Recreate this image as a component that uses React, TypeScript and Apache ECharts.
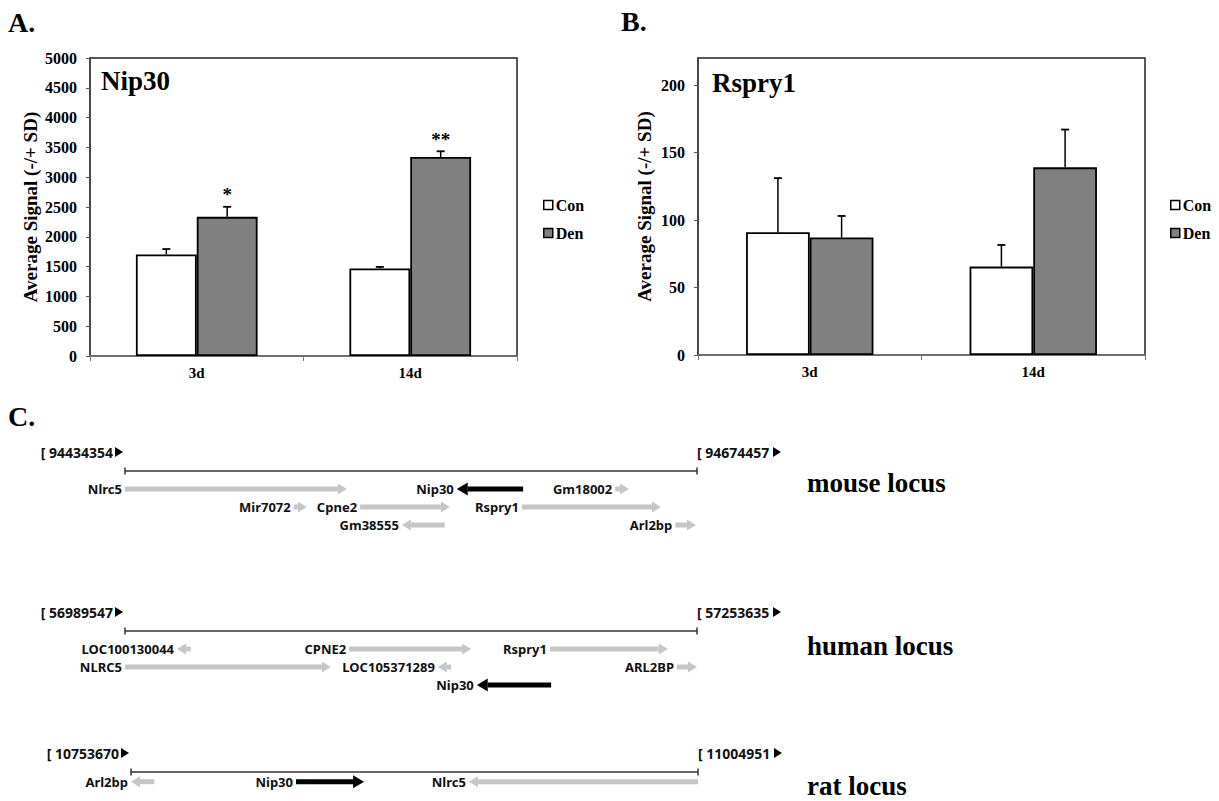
import React, { useEffect, useRef } from "react";
import * as echarts from "echarts";

// ---------- Data ----------
const days = ["3d", "14d"];
const groupNames = ["Con", "Den"];

// Panel A: Nip30 average signal
const nipCon = [1705, 1470];
const nipConSD = [90, 25];
const nipDen = [2335, 3340];
const nipDenSD = [168, 95];
const nipStars = ["*", "**"];

// Panel B: Rspry1 average signal
const rspCon = [91, 65.5];
const rspConSD = [40, 16];
const rspDen = [87, 139];
const rspDenSD = [16, 28];

// Panel C: loci (gene: name, start %, end %, strand, row)
type Gene = [string, number, number, number, number];
const locusExtent = [0, 100];
const mouseBounds = ["94434354", "94674457"];
const humanBounds = ["56989547", "57253635"];
const ratBounds = ["10753670", "11004951"];
const mouseGenes: Gene[] = [
  ["Nlrc5", 0, 38.8, 1, 1],
  ["Nip30", 58.0, 69.6, -1, 1],
  ["Gm18002", 85.7, 88.1, 1, 1],
  ["Mir7072", 29.5, 31.8, 1, 2],
  ["Cpne2", 41.1, 56.8, 1, 2],
  ["Rspry1", 69.4, 93.7, 1, 2],
  ["Gm38555", 48.4, 55.9, -1, 3],
  ["Arl2bp", 96.2, 99.8, 1, 3],
];
const humanGenes: Gene[] = [
  ["LOC100130044", 9.1, 11.5, -1, 1],
  ["CPNE2", 39.2, 60.5, 1, 1],
  ["Rspry1", 74.3, 94.9, 1, 1],
  ["NLRC5", 0, 36.0, 1, 2],
  ["LOC105371289", 54.7, 57.0, -1, 2],
  ["ARL2BP", 96.5, 100, 1, 2],
  ["Nip30", 61.5, 74.5, -1, 3],
];
const ratGenes: Gene[] = [
  ["Arl2bp", 0, 4.1, -1, 1],
  ["Nip30", 29.1, 41.1, 1, 1],
  ["Nlrc5", 59.6, 100, -1, 1],
];

// ---------- Styles ----------
const serif = "Liberation Serif";
const sans = "Noto Sans";
const GAP = 0.43;

function barX(gridIndex: number) {
  return {
    type: "category",
    gridIndex,
    data: days,
    axisLine: { show: true, lineStyle: { color: "#777", width: 1.5 } },
    axisTick: { show: true, alignWithLabel: false, length: 5, lineStyle: { color: "#777" } },
    axisLabel: { margin: 9, fontFamily: serif, fontWeight: "bold", fontSize: 15, color: "#000" },
    splitLine: { show: false },
  };
}

function barY(gridIndex: number, max: number, interval: number, nameGap: number, showMax: boolean) {
  return {
    type: "value",
    gridIndex,
    min: 0,
    max,
    interval,
    name: "Average Signal (-/+ SD)",
    nameLocation: "middle",
    nameGap,
    nameTextStyle: { fontFamily: serif, fontWeight: "bold", fontSize: 19, color: "#000" },
    axisLine: { show: true, lineStyle: { color: "#444", width: 1.5 } },
    axisTick: { show: true, length: 4, lineStyle: { color: "#555" } },
    axisLabel: {
      margin: 13,
      fontFamily: serif,
      fontWeight: "bold",
      fontSize: 16,
      color: "#000",
      showMaxLabel: showMax,
      formatter: (v: number) => String(v),
    },
    splitLine: { show: false },
  };
}

function barSeries(gridIndex: number, name: string, values: number[], fill: string) {
  return {
    type: "bar",
    name,
    xAxisIndex: gridIndex,
    yAxisIndex: gridIndex,
    data: values,
    barGap: "0%",
    barCategoryGap: GAP * 100 + "%",
    itemStyle: { color: fill, borderColor: "#000", borderWidth: 1.8 },
    silent: true,
    z: 2,
  };
}

function errorSeries(
  gridIndex: number,
  con: number[],
  conSD: number[],
  den: number[],
  denSD: number[],
  stars: string[] | null
) {
  const data: number[][] = [];
  con.forEach((v, i) => data.push([i, v, conSD[i], 0]));
  den.forEach((v, i) => data.push([i, v, denSD[i], 1]));
  return {
    type: "custom",
    xAxisIndex: gridIndex,
    yAxisIndex: gridIndex,
    silent: true,
    z: 5,
    data,
    encode: { x: 0, y: 1 },
    renderItem: (params: any, api: any) => {
      const idx = api.value(0);
      const v = api.value(1);
      const sd = api.value(2);
      const s = api.value(3);
      const band = api.size([1, 0])[0];
      const barW = (band * (1 - GAP)) / 2;
      const base = api.coord([idx, v]);
      const cx = base[0] + (s === 0 ? -barW / 2 : barW / 2);
      const top = api.coord([idx, v + sd])[1];
      const children: any[] = [
        { type: "line", shape: { x1: cx, y1: base[1], x2: cx, y2: top }, style: { stroke: "#000", lineWidth: 1.5 } },
        { type: "line", shape: { x1: cx - 4, y1: top, x2: cx + 4, y2: top }, style: { stroke: "#000", lineWidth: 1.8 } },
      ];
      if (stars && s === 1) {
        children.push({
          type: "text",
          x: cx,
          y: top - 12,
          style: {
            text: stars[idx],
            textAlign: "center",
            align: "center",
            textVerticalAlign: "middle",
            verticalAlign: "middle",
            fontFamily: serif,
            fontWeight: "bold",
            fontSize: 19,
            fill: "#000",
          },
        });
      }
      return { type: "group", children };
    },
  };
}

function locusAxes(gridIndex: number) {
  return {
    x: { type: "value", gridIndex, min: locusExtent[0], max: locusExtent[1], show: false },
    y: { type: "value", gridIndex, min: 0, max: 3, inverse: true, show: false },
  };
}

function locusLineSeries(gridIndex: number, bounds: string[]) {
  return {
    type: "custom",
    xAxisIndex: gridIndex,
    yAxisIndex: gridIndex,
    silent: true,
    data: [[locusExtent[0], locusExtent[1], 0]],
    encode: { x: [0, 1], y: 2 },
    renderItem: (params: any, api: any) => {
      const a = api.coord([api.value(0), api.value(2)]);
      const b = api.coord([api.value(1), api.value(2)]);
      const y = a[1];
      const ls = { stroke: "#333", lineWidth: 1.5 };
      const ts = { fontFamily: sans, fontWeight: "bold", fontSize: 14, fill: "#111" };
      const tri = (x: number) => ({
        type: "polygon",
        shape: { points: [[x, y - 24], [x + 8, y - 19], [x, y - 14]] },
        style: { fill: "#000" },
      });
      return {
        type: "group",
        children: [
          { type: "line", shape: { x1: a[0], y1: y, x2: b[0], y2: y }, style: ls },
          { type: "line", shape: { x1: a[0], y1: y - 3.5, x2: a[0], y2: y + 3.5 }, style: ls },
          { type: "line", shape: { x1: b[0], y1: y - 3.5, x2: b[0], y2: y + 3.5 }, style: ls },
          {
            type: "text",
            x: a[0] - 12,
            y: y - 19,
            style: {
              text: `[ ${bounds[0]}`,
              textAlign: "right",
              align: "right",
              textVerticalAlign: "middle",
              verticalAlign: "middle",
              ...ts,
            },
          },
          tri(a[0] - 10),
          {
            type: "text",
            x: b[0],
            y: y - 19,
            style: {
              text: `[ ${bounds[1]}`,
              textAlign: "left",
              align: "left",
              textVerticalAlign: "middle",
              verticalAlign: "middle",
              ...ts,
            },
          },
          tri(b[0] + 76),
        ],
      };
    },
  };
}

function geneSeries(gridIndex: number, genes: Gene[]) {
  return {
    type: "custom",
    xAxisIndex: gridIndex,
    yAxisIndex: gridIndex,
    silent: true,
    data: genes.map((g) => [g[1], g[2], g[3], g[4]]),
    encode: { x: [0, 1], y: 3 },
    renderItem: (params: any, api: any) => {
      const g = genes[params.dataIndex];
      const focus = g[0] === "Nip30";
      const p0 = api.coord([api.value(0), api.value(3)]);
      const p1 = api.coord([api.value(1), api.value(3)]);
      const x0 = p0[0];
      const x1 = p1[0];
      const y = p0[1];
      const dir = api.value(2);
      const color = focus ? "#000" : "#c6c6c6";
      const sh = 5;
      const hh = focus ? 13 : 11;
      const hl = Math.min(focus ? 11 : 9, x1 - x0);
      let shaft: any;
      let head: number[][];
      if (dir > 0) {
        shaft = { x: x0, y: y - sh / 2, width: Math.max(0, x1 - hl - x0), height: sh };
        head = [
          [x1 - hl, y - hh / 2],
          [x1, y],
          [x1 - hl, y + hh / 2],
        ];
      } else {
        shaft = { x: x0 + hl, y: y - sh / 2, width: Math.max(0, x1 - x0 - hl), height: sh };
        head = [
          [x0 + hl, y - hh / 2],
          [x0, y],
          [x0 + hl, y + hh / 2],
        ];
      }
      return {
        type: "group",
        children: [
          { type: "rect", shape: shaft, style: { fill: color } },
          { type: "polygon", shape: { points: head }, style: { fill: color } },
          {
            type: "text",
            x: x0 - 3,
            y,
            style: {
              text: g[0],
              textAlign: "right",
              align: "right",
              textVerticalAlign: "middle",
              verticalAlign: "middle",
              fontFamily: sans,
              fontWeight: "bold",
              fontSize: 13,
              fill: "#111",
            },
          },
        ],
      };
    },
  };
}

function titleText(text: string, left: number, top: number, size: number) {
  return {
    text,
    left,
    top,
    padding: 0,
    textStyle: { fontFamily: serif, fontWeight: "bold", fontSize: size, color: "#000" },
  };
}

function legendAt(left: number) {
  return {
    data: groupNames,
    left,
    top: 197,
    orient: "vertical",
    icon: "rect",
    itemWidth: 9,
    itemHeight: 9,
    itemGap: 12,
    padding: 0,
    selectedMode: false,
    itemStyle: { borderColor: "#000", borderWidth: 1.5 },
    textStyle: { fontFamily: serif, fontWeight: "bold", fontSize: 16, color: "#000", padding: [0, 0, 0, -2] },
  };
}

export default function App() {
  const ref = useRef<HTMLDivElement>(null);

  useEffect(() => {
    document.body.style.margin = "0";
    if (!ref.current) return;
    const chart = echarts.init(ref.current, null, { renderer: "svg" });

    const mA = locusAxes(2);
    const hA = locusAxes(3);
    const rA = locusAxes(4);

    const option: any = {
      animation: false,
      backgroundColor: "#fff",
      textStyle: { fontFamily: serif },
      title: [
        titleText("A.", 8, 8, 28),
        titleText("B.", 621, 7, 28),
        titleText("C.", 8, 402, 28),
        titleText("Nip30", 101, 67, 27),
        titleText("Rspry1", 712, 69, 27),
        titleText("mouse locus", 807, 469, 27),
        titleText("human locus", 807, 632, 27),
        titleText("rat locus", 807, 772, 27),
      ],
      legend: [legendAt(543), legendAt(1170)],
      grid: [
        { left: 90, top: 58, width: 427, height: 298, show: true, borderColor: "#222", borderWidth: 1.5, containLabel: false },
        { left: 698, top: 58, width: 447, height: 297, show: true, borderColor: "#222", borderWidth: 1.5, containLabel: false },
        { left: 125, top: 471, width: 572, height: 54 },
        { left: 125, top: 631, width: 572, height: 54 },
        { left: 131, top: 772, width: 567, height: 54 },
      ],
      xAxis: [barX(0), barX(1), mA.x, hA.x, rA.x],
      yAxis: [barY(0, 5000, 500, 50, true), barY(1, 220, 50, 44, false), mA.y, hA.y, rA.y],
      series: [
        barSeries(0, "Con", nipCon, "#ffffff"),
        barSeries(0, "Den", nipDen, "#808080"),
        errorSeries(0, nipCon, nipConSD, nipDen, nipDenSD, nipStars),
        barSeries(1, "Con", rspCon, "#ffffff"),
        barSeries(1, "Den", rspDen, "#808080"),
        errorSeries(1, rspCon, rspConSD, rspDen, rspDenSD, null),
        locusLineSeries(2, mouseBounds),
        geneSeries(2, mouseGenes),
        locusLineSeries(3, humanBounds),
        geneSeries(3, humanGenes),
        locusLineSeries(4, ratBounds),
        geneSeries(4, ratGenes),
      ],
    };

    chart.setOption(option);
    return () => {
      chart.dispose();
    };
  }, []);

  return <div ref={ref} style={{ width: 1219, height: 801, overflow: "hidden" }} />;
}
